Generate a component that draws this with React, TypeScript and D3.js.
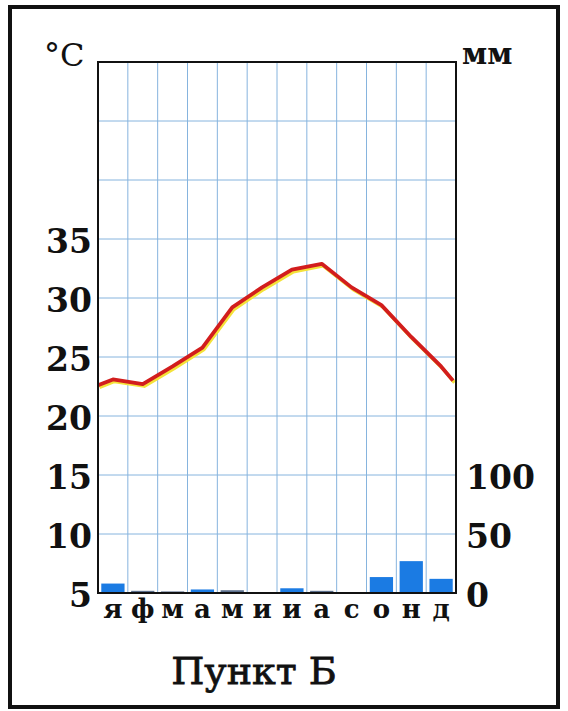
import React from "react";
import * as d3 from "d3";

// months (Russian initials)
const months = ["я", "ф", "м", "а", "м", "и", "и", "а", "с", "о", "н", "д"];
// mean monthly temperature, °C
const temps = [23.1, 22.7, 24.2, 25.8, 29.2, 30.9, 32.4, 32.9, 30.9, 29.4, 26.7, 24.2];
// line continuation at the left and right edges of the plot
const tempStart = 22.6;
const tempEnd = 23.0;
// monthly precipitation, mm
const precip = [8, 1, 0.5, 3, 1.5, 0, 4, 1, 0, 13.5, 27, 12];

const tempTicks = [5, 10, 15, 20, 25, 30, 35];
const precipTicks = [0, 50, 100];

const W = 568;
const H = 711;
const left = 98;
const right = 456;
const top = 62;
const bottom = 593;

const serif = "'DejaVu Serif', 'Liberation Serif', serif";

export default function App() {
  const x = d3.scaleBand<number>().domain(d3.range(12)).range([left, right]);
  const xPad = d3
    .scaleBand<number>()
    .domain(d3.range(12))
    .range([left, right])
    .paddingInner(0.22)
    .paddingOuter(0.11);
  const yT = d3.scaleLinear().domain([5, 50]).range([bottom, top]);
  const yP = d3.scaleLinear().domain([0, 450]).range([bottom, top]);

  const pts: [number, number][] = [
    [left, tempStart],
    ...temps.map((t, i) => [x(i)! + x.bandwidth() / 2, t] as [number, number]),
    [right - 3, tempEnd],
  ];
  const line = d3
    .line<[number, number]>()
    .x((d) => d[0])
    .y((d) => yT(d[1]));
  const path = line(pts) ?? "";

  const vLines = d3.range(1, 12).map((i) => x(i)!);
  const hLines = d3.range(10, 50, 5);

  return (
    <svg
      width={W}
      height={H}
      style={{ position: "absolute", left: 0, top: 0, background: "#fff" }}
    >
      <rect x={10} y={7} width={548} height={700} fill="#fff" stroke="#111" strokeWidth={4} />

      {/* grid */}
      {vLines.map((v, i) => (
        <line key={"v" + i} x1={v} x2={v} y1={top} y2={bottom} stroke="#86b4de" strokeWidth={1} />
      ))}
      {hLines.map((t) => (
        <line key={"h" + t} x1={left} x2={right} y1={yT(t)} y2={yT(t)} stroke="#86b4de" strokeWidth={1} />
      ))}

      {/* precipitation bars */}
      {precip.map((p, i) => (
        <rect
          key={"b" + i}
          x={xPad(i)!}
          y={yP(p) - (p > 0 && p < 2 ? 1 : 0)}
          width={xPad.bandwidth()}
          height={Math.max(bottom - yP(p), p > 0 ? 1.5 : 0)}
          fill={p < 2 ? "#5b6f8c" : "#1b7be3"}
        />
      ))}

      {/* temperature */}
      <path d={path} transform="translate(1.5,2)" fill="none" stroke="#f4e23a" strokeWidth={3.5} strokeLinejoin="round" />
      <path d={path} fill="none" stroke="#d21d1d" strokeWidth={3.8} strokeLinejoin="round" />

      <rect x={left} y={top} width={right - left} height={bottom - top} fill="none" stroke="#111" strokeWidth={2} />

      {/* left axis */}
      {tempTicks.map((t) => (
        <text
          key={"lt" + t}
          x={92}
          y={yT(t) + 14}
          textAnchor="end"
          fontFamily={serif}
          fontWeight="bold"
          fontSize={33}
          fill="#111"
        >
          {t}
        </text>
      ))}
      {/* right axis */}
      {precipTicks.map((p) => (
        <text
          key={"rt" + p}
          x={466}
          y={yP(p) + 14}
          fontFamily={serif}
          fontWeight="bold"
          fontSize={33}
          fill="#111"
        >
          {p}
        </text>
      ))}

      <text x={44} y={66} fontFamily={serif} fontSize={32} fill="#111">
        °C
      </text>
      <text x={462} y={64} fontFamily={serif} fontWeight="bold" fontSize={29} fill="#111">
        мм
      </text>

      {months.map((m, i) => (
        <text
          key={"m" + i}
          x={x(i)! + x.bandwidth() / 2}
          y={618}
          textAnchor="middle"
          fontFamily={serif}
          fontWeight="bold"
          fontSize={26}
          fill="#111"
        >
          {m}
        </text>
      ))}

      <text
        x={254}
        y={684}
        textAnchor="middle"
        fontFamily={serif}
        fontSize={38}
        fill="#111"
        stroke="#111"
        strokeWidth={0.8}
      >
        Пункт Б
      </text>
    </svg>
  );
}
